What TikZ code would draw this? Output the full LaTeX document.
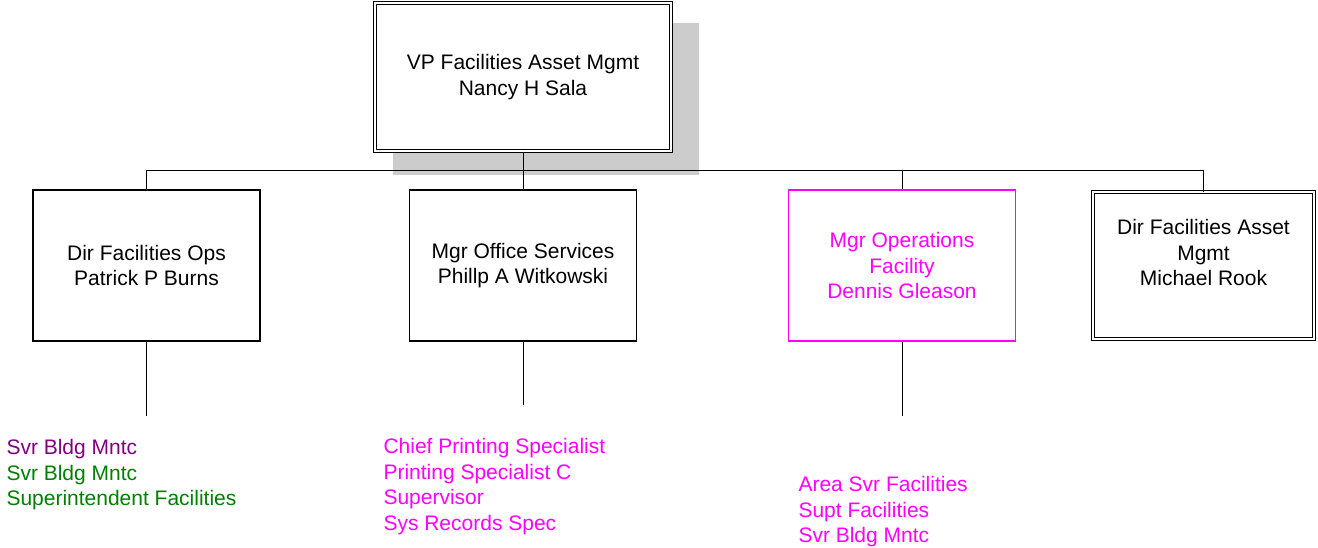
\documentclass[tikz,border=0pt]{standalone}
\usepackage{fontspec}
\setmainfont{Liberation Sans}
\definecolor{shadowgray}{RGB}{204,204,204}
\definecolor{listpurple}{RGB}{128,0,128}
\definecolor{listgreen}{RGB}{0,128,0}
\definecolor{listmagenta}{RGB}{255,0,255}
\begin{document}
\begin{tikzpicture}[x=1pt, y=-1pt, line width=1pt,
  every node/.style={font=\fontsize{21}{25.5}\selectfont, align=center},
  unit/.style={draw, line width=1.4pt, minimum width=227pt, minimum height=151pt, inner sep=0pt},
  head/.style={draw, double, double distance=2pt, inner sep=0pt},
  titles/.style={anchor=north west, align=left, inner sep=0pt}] %[scale=0.8]
  \useasboundingbox (0,0) rectangle (1318,547);
  \fill [shadowgray] (393,23) rectangle (699,175);
  \node [head, fill=white, minimum width=296pt, minimum height=148pt] (vp) at (523,77) {VP Facilities Asset Mgmt\\Nancy H Sala};
  \node [unit] (ops) at (146.5,265.5) {Dir Facilities Ops\\Patrick P Burns};
  \node [unit] (office) at (523,265.5) {Mgr Office Services\\Phillp A Witkowski};
  \node [unit, draw=listmagenta, text=listmagenta] (opsfac) at (902,265.5) {Mgr Operations\\Facility\\Dennis Gleason};
  \node [head, minimum width=221pt, minimum height=147pt] (asset) at (1203.5,265.5) {Dir Facilities Asset\\Mgmt\\Michael Rook\\ \mbox{}};
  \coordinate (bus) at (523,170.5);
  \coordinate (opsend) at (146.5,416);
  \coordinate (officeend) at (523,405);
  \coordinate (opsfacend) at (902,416);
  \node [titles] (opslist) at (6,439) {\textcolor{listpurple}{Svr Bldg Mntc}\\\textcolor{listgreen}{Svr Bldg Mntc}\\\textcolor{listgreen}{Superintendent Facilities}};
  \node [titles, text=listmagenta] (officelist) at (383,438) {Chief Printing Specialist\\Printing Specialist C\\Supervisor\\Sys Records Spec};
  \node [titles, text=listmagenta] (opsfaclist) at (798,476) {Area Svr Facilities\\Supt Facilities\\Svr Bldg Mntc};
  \draw (vp) -- (bus);
  \draw (bus) -| (ops);
  \draw (bus) -| (office);
  \draw (bus) -| (opsfac);
  \draw (bus) -| (asset);
  \draw (ops) -- (opsend);
  \draw (office) -- (officeend);
  \draw (opsfac) -- (opsfacend);
\end{tikzpicture}
\end{document}
